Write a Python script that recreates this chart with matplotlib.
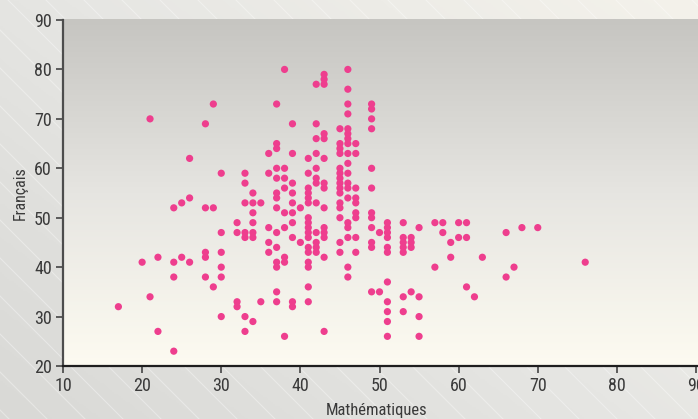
import matplotlib
matplotlib.use('Agg')
import matplotlib.pyplot as plt
import numpy as np
from matplotlib import font_manager
from matplotlib.colors import LinearSegmentedColormap

# ---- data (Mathématiques score, Français score) ----
maths = [
    17,
    20,
    21, 21,
    22, 22,
    24, 24, 24, 24,
    25, 25,
    26, 26, 26,
    28, 28, 28, 28, 28,
    29, 29, 29,
    30, 30, 30, 30, 30, 30,
    32, 32, 32, 32,
    33, 33, 33, 33, 33, 33, 33,
    34, 34, 34, 34, 34, 34, 34,
    35, 35,
    36, 36, 36, 36, 36,
    37, 37, 37, 37, 37, 37, 37, 37, 37, 37, 37, 37, 37, 37,
    38, 38, 38, 38, 38, 38, 38, 38, 38,
    39, 39, 39, 39, 39, 39, 39, 39, 39, 39,
    40, 40,
    41, 41, 41, 41, 41, 41, 41, 41, 41, 41, 41, 41, 41, 41, 41, 41, 41,
    42, 42, 42, 42, 42, 42, 42, 42, 42, 42, 42, 42,
    43, 43, 43, 43, 43, 43, 43, 43, 43, 43, 43, 43, 43, 43,
    45, 45, 45, 45, 45, 45, 45, 45, 45, 45, 45, 45, 45, 45, 45,
    46, 46, 46, 46, 46, 46, 46, 46, 46, 46, 46, 46, 46, 46, 46, 46, 46, 46, 46,
    47, 47, 47, 47, 47, 47, 47, 47, 47,
    49, 49, 49, 49, 49, 49, 49, 49, 49, 49, 49, 49,
    50, 50,
    51, 51, 51, 51, 51, 51, 51, 51, 51, 51, 51,
    53, 53, 53, 53, 53, 53, 53,
    54, 54, 54, 54,
    55, 55, 55, 55,
    57, 57,
    58, 58,
    59, 59,
    60, 60,
    61, 61, 61,
    62,
    63,
    66, 66,
    67,
    68,
    70,
    76,
]
francais = [
    32,
    41,
    70, 34,
    42, 27,
    52, 41, 38, 23,
    53, 42,
    62, 54, 41,
    69, 52, 43, 42, 38,
    73, 52, 36,
    59, 47, 43, 40, 38, 30,
    49, 47, 33, 32,
    59, 57, 53, 47, 46, 30, 27,
    55, 53, 51, 49, 47, 46, 29,
    53, 33,
    63, 59, 48, 45, 43,
    73, 65, 64, 60, 58, 55, 54, 52, 47, 44, 41, 40, 35, 33,
    80, 60, 58, 56, 51, 48, 42, 41, 26,
    69, 63, 57, 55, 53, 51, 49, 46, 33, 32,
    52, 45,
    62, 59, 56, 55, 54, 53, 50, 49, 48, 47, 46, 44, 43, 41, 40, 36, 33,
    77, 69, 66, 63, 60, 58, 57, 53, 47, 45, 44, 43,
    79, 78, 77, 67, 66, 62, 57, 56, 52, 48, 47, 46, 42, 27,
    68, 65, 64, 63, 60, 59, 58, 57, 56, 55, 53, 52, 50, 45, 43,
    80, 76, 73, 71, 68, 67, 66, 65, 63, 61, 59, 57, 56, 54, 49, 48, 46, 40, 38,
    65, 63, 56, 54, 53, 51, 50, 46, 43,
    73, 72, 70, 68, 60, 56, 51, 50, 48, 45, 44, 35,
    47, 35,
    49, 48, 47, 46, 44, 43, 37, 33, 31, 29, 26,
    49, 46, 45, 44, 43, 34, 31,
    46, 45, 44, 35,
    48, 34, 30, 26,
    49, 40,
    49, 47,
    45, 42,
    49, 46,
    49, 46, 36,
    34,
    42,
    47, 38,
    40,
    48,
    48,
    41,
]
x_ticks = [10, 20, 30, 40, 50, 60, 70, 80, 90]
y_ticks = [20, 30, 40, 50, 60, 70, 80, 90]
x_label = "Mathématiques"
y_label = "Français"

# ---- font ----
available = {f.name for f in font_manager.fontManager.ttflist}
family = 'DejaVu Sans'
for cand in ['Roboto Condensed', 'Liberation Sans Narrow', 'Open Sans Condensed', 'Noto Sans']:
    if cand in available:
        family = cand
        break
plt.rcParams['font.family'] = [family, 'DejaVu Sans']

W, H = 698, 419
fig = plt.figure(figsize=(W / 100, H / 100), dpi=100)

# background layer
bg = fig.add_axes([0, 0, 1, 1])
bg.set_xlim(0, 1)
bg.set_ylim(0, 1)
bg.axis('off')
yy, xx = np.mgrid[0:1:200j, 0:1:300j]
t = np.clip(xx * 0.55 + yy * 0.45, 0, 1)
cmap_bg = LinearSegmentedColormap.from_list('bg', ['#d9d9d6', '#e6e6e3', '#f4f2eb'])
bg.imshow(t, cmap=cmap_bg, extent=[0, 1, 0, 1], origin='lower', aspect='auto', zorder=0)
# faint diagonal stripes
for c in np.arange(-600, 1400, 38):
    x0p, y0p = c, H
    x1p, y1p = c + H, 0
    bg.plot([x0p / W, x1p / W], [y0p / H, y1p / H], color='white', alpha=0.35, lw=0.8, zorder=1)

# plot area geometry (pixels)
left_px, right_px, top_px, bottom_px = 63, 698, 20, 366
ax_rect = [left_px / W, 1 - bottom_px / H, (right_px - left_px) / W, (bottom_px - top_px) / H]

# plot area gradient
grad = np.linspace(0, 1, 256).reshape(-1, 1)
cmap_ax = LinearSegmentedColormap.from_list('ax', ['#fdfbf1', '#e6e5e1', '#c6c5c1'])
bg.imshow(grad, cmap=cmap_ax, origin='lower', aspect='auto', zorder=2,
          extent=[ax_rect[0], ax_rect[0] + ax_rect[2], ax_rect[1], ax_rect[1] + ax_rect[3]])

ax = fig.add_axes(ax_rect)
ax.patch.set_alpha(0)
ax.scatter(maths, francais, s=27, color='#ee3e8e', edgecolors='none', zorder=3)

ax.set_xlim(10, 10 + (right_px - left_px) / 7.9125)
ax.set_ylim(20, 90)
ax.set_xticks(x_ticks)
ax.set_yticks(y_ticks)
for s in ['top', 'right']:
    ax.spines[s].set_visible(False)
ax.spines['left'].set_color('#4d4d4d')
ax.spines['left'].set_linewidth(1.6)
ax.spines['bottom'].set_color('#1e1e1e')
ax.spines['bottom'].set_linewidth(1.6)
ax.tick_params(axis='both', direction='out', length=5, width=1.2, color='#444444',
               labelsize=13, labelcolor='#3a3a3a', pad=3)

fig.text(377 / W, 1 - 410 / H, x_label, ha='center', va='center', fontsize=12, color='#3a3a3a')
fig.text(20 / W, 1 - 193 / H, y_label, ha='center', va='center', rotation=90, fontsize=11.5, color='#3a3a3a')

fig.savefig('out.png', dpi=100)
